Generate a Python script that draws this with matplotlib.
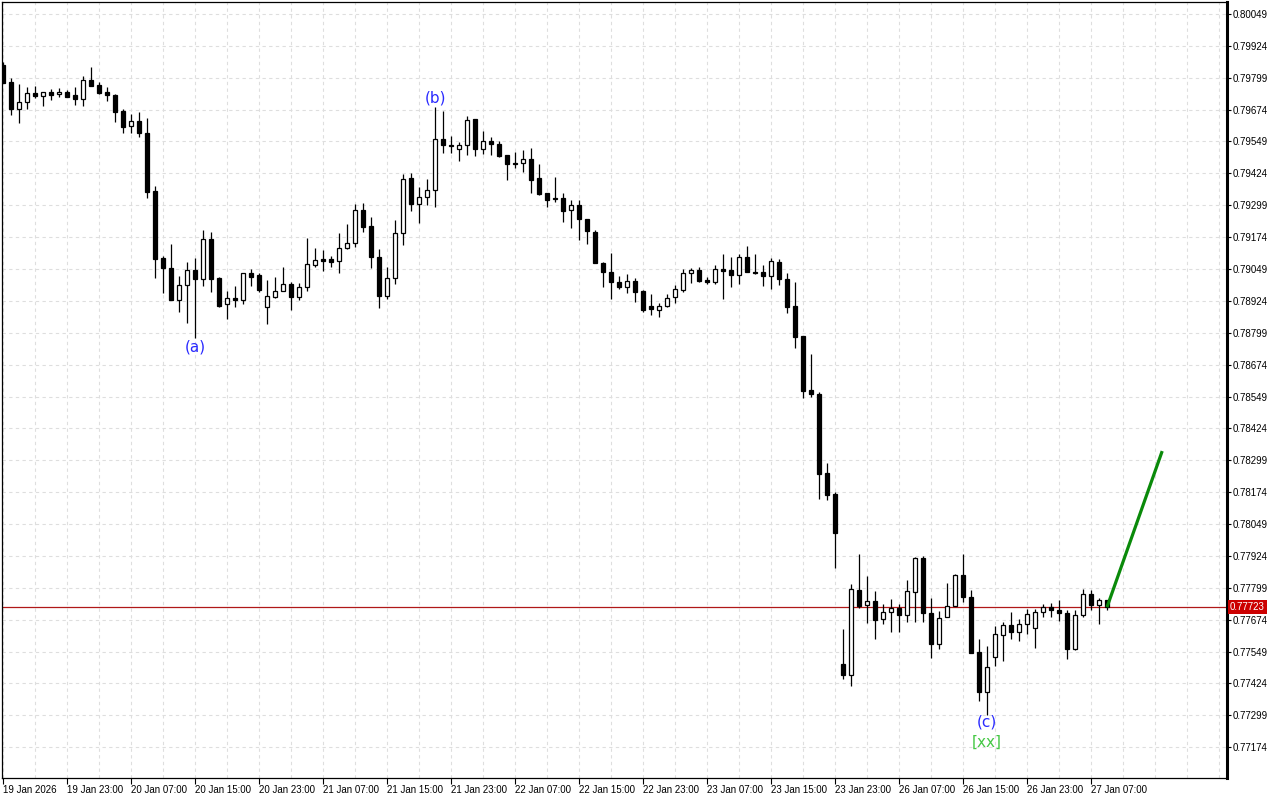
import matplotlib
matplotlib.use("Agg")
import matplotlib.pyplot as plt
import matplotlib.transforms as mtransforms
import numpy as np

# hourly bars, 19 Jan 15:00 -> 27 Jan 09:00 (weekend skipped)
opens = [
    0.79849, 0.79782, 0.79677, 0.79704, 0.79739, 0.79728, 0.79743, 0.79735, 0.79743, 0.79731,
    0.79716, 0.79790, 0.79771, 0.79743, 0.79731, 0.79669, 0.79610, 0.79630, 0.79583, 0.79355,
    0.79093, 0.79053, 0.78927, 0.78987, 0.79045, 0.79010, 0.79167, 0.79014, 0.78911, 0.78935,
    0.78927, 0.79034, 0.79026, 0.78900, 0.78939, 0.78963, 0.78990, 0.78939, 0.78979, 0.79065,
    0.79089, 0.79089, 0.79081, 0.79132, 0.79151, 0.79281, 0.79218, 0.79096, 0.78943, 0.79014,
    0.79191, 0.79406, 0.79304, 0.79332, 0.79359, 0.79559, 0.79536, 0.79520, 0.79536, 0.79638,
    0.79520, 0.79551, 0.79539, 0.79496, 0.79465, 0.79465, 0.79481, 0.79406, 0.79347, 0.79328,
    0.79328, 0.79281, 0.79300, 0.79245, 0.79195, 0.79073, 0.79038, 0.78998, 0.78979, 0.79002,
    0.78963, 0.78904, 0.78888, 0.78904, 0.78939, 0.78967, 0.79034, 0.79045, 0.79006, 0.78998,
    0.79049, 0.79045, 0.79026, 0.79096, 0.79038, 0.79038, 0.79022, 0.79077, 0.79010, 0.78904,
    0.78786, 0.78574, 0.78559, 0.78249, 0.78167, 0.77500, 0.77457, 0.77790, 0.77731, 0.77747,
    0.77676, 0.77704, 0.77720, 0.77692, 0.77782, 0.77916, 0.77700, 0.77578, 0.77684, 0.77727,
    0.77849, 0.77763, 0.77547, 0.77390, 0.77528, 0.77614, 0.77653, 0.77626, 0.77657, 0.77641,
    0.77704, 0.77723, 0.77712, 0.77700, 0.77559, 0.77692, 0.77774, 0.77731, 0.77751]
highs = [
    0.79860, 0.79798, 0.79775, 0.79763, 0.79767, 0.79743, 0.79755, 0.79759, 0.79751, 0.79763,
    0.79806, 0.79841, 0.79782, 0.79763, 0.79735, 0.79677, 0.79657, 0.79665, 0.79641, 0.79375,
    0.79100, 0.79147, 0.79022, 0.79077, 0.79093, 0.79202, 0.79195, 0.79018, 0.78963, 0.78983,
    0.79034, 0.79049, 0.79034, 0.79006, 0.79018, 0.79057, 0.78998, 0.78994, 0.79171, 0.79132,
    0.79124, 0.79100, 0.79191, 0.79226, 0.79304, 0.79308, 0.79253, 0.79128, 0.79057, 0.79242,
    0.79422, 0.79426, 0.79371, 0.79402, 0.79685, 0.79669, 0.79571, 0.79547, 0.79649, 0.79638,
    0.79590, 0.79567, 0.79551, 0.79496, 0.79508, 0.79516, 0.79524, 0.79461, 0.79347, 0.79410,
    0.79347, 0.79320, 0.79320, 0.79245, 0.79202, 0.79077, 0.79112, 0.79022, 0.79030, 0.79014,
    0.78967, 0.78951, 0.78915, 0.78951, 0.78987, 0.79049, 0.79053, 0.79057, 0.79018, 0.79065,
    0.79108, 0.79096, 0.79108, 0.79140, 0.79108, 0.79065, 0.79093, 0.79089, 0.79034, 0.78998,
    0.78786, 0.78715, 0.78567, 0.78288, 0.78174, 0.77637, 0.77814, 0.77931, 0.77845, 0.77786,
    0.77735, 0.77755, 0.77735, 0.77829, 0.77920, 0.77924, 0.77759, 0.77708, 0.77818, 0.77853,
    0.77931, 0.77790, 0.77598, 0.77571, 0.77649, 0.77665, 0.77704, 0.77676, 0.77716, 0.77716,
    0.77735, 0.77739, 0.77751, 0.77712, 0.77712, 0.77794, 0.77790, 0.77759, 0.77751]
lows = [
    0.79778, 0.79653, 0.79622, 0.79677, 0.79720, 0.79689, 0.79712, 0.79724, 0.79724, 0.79692,
    0.79689, 0.79767, 0.79735, 0.79708, 0.79626, 0.79583, 0.79583, 0.79567, 0.79328, 0.79014,
    0.78955, 0.78927, 0.78880, 0.78837, 0.78778, 0.78983, 0.78959, 0.78900, 0.78852, 0.78900,
    0.78911, 0.78983, 0.78959, 0.78833, 0.78935, 0.78963, 0.78888, 0.78927, 0.78963, 0.79057,
    0.79042, 0.79057, 0.79034, 0.79128, 0.79136, 0.79195, 0.79053, 0.78896, 0.78931, 0.78990,
    0.79144, 0.79277, 0.79230, 0.79300, 0.79293, 0.79504, 0.79504, 0.79473, 0.79496, 0.79492,
    0.79500, 0.79496, 0.79488, 0.79398, 0.79445, 0.79429, 0.79347, 0.79339, 0.79293, 0.79312,
    0.79234, 0.79210, 0.79163, 0.79147, 0.79073, 0.78979, 0.78931, 0.78971, 0.78955, 0.78920,
    0.78880, 0.78868, 0.78860, 0.78900, 0.78915, 0.78959, 0.78994, 0.78998, 0.78990, 0.78990,
    0.78931, 0.78979, 0.78990, 0.79038, 0.79030, 0.78983, 0.78971, 0.78987, 0.78876, 0.78739,
    0.78543, 0.78547, 0.78147, 0.78143, 0.77876, 0.77441, 0.77414, 0.77720, 0.77661, 0.77598,
    0.77657, 0.77626, 0.77626, 0.77665, 0.77665, 0.77665, 0.77524, 0.77559, 0.77684, 0.77727,
    0.77743, 0.77543, 0.77355, 0.77300, 0.77492, 0.77512, 0.77598, 0.77590, 0.77618, 0.77563,
    0.77684, 0.77684, 0.77669, 0.77520, 0.77555, 0.77684, 0.77712, 0.77657, 0.77712]
closes = [
    0.79778, 0.79677, 0.79704, 0.79739, 0.79728, 0.79743, 0.79731, 0.79743, 0.79724, 0.79716,
    0.79790, 0.79767, 0.79739, 0.79731, 0.79665, 0.79606, 0.79630, 0.79583, 0.79351, 0.79089,
    0.79053, 0.78927, 0.78987, 0.79045, 0.79010, 0.79167, 0.79010, 0.78904, 0.78935, 0.78927,
    0.79034, 0.79018, 0.78967, 0.78943, 0.78963, 0.78990, 0.78939, 0.78979, 0.79069, 0.79085,
    0.79081, 0.79077, 0.79132, 0.79151, 0.79281, 0.79214, 0.79096, 0.78943, 0.79014, 0.79191,
    0.79402, 0.79304, 0.79332, 0.79359, 0.79559, 0.79536, 0.79532, 0.79536, 0.79634, 0.79520,
    0.79551, 0.79539, 0.79492, 0.79461, 0.79461, 0.79481, 0.79398, 0.79343, 0.79320, 0.79324,
    0.79277, 0.79300, 0.79245, 0.79198, 0.79073, 0.79038, 0.78998, 0.78979, 0.79002, 0.78959,
    0.78888, 0.78892, 0.78904, 0.78935, 0.78971, 0.79034, 0.79045, 0.79002, 0.78998, 0.79049,
    0.79042, 0.79026, 0.79096, 0.79038, 0.79034, 0.79022, 0.79081, 0.79010, 0.78900, 0.78782,
    0.78570, 0.78559, 0.78245, 0.78163, 0.78014, 0.77457, 0.77794, 0.77727, 0.77747, 0.77673,
    0.77704, 0.77720, 0.77692, 0.77786, 0.77916, 0.77700, 0.77578, 0.77680, 0.77727, 0.77849,
    0.77763, 0.77543, 0.77390, 0.77488, 0.77618, 0.77653, 0.77626, 0.77657, 0.77696, 0.77704,
    0.77723, 0.77712, 0.77700, 0.77559, 0.77692, 0.77774, 0.77731, 0.77751, 0.77723]

time_labels = ["19 Jan 2026", "19 Jan 23:00", "20 Jan 07:00", "20 Jan 15:00", "20 Jan 23:00",
               "21 Jan 07:00", "21 Jan 15:00", "21 Jan 23:00", "22 Jan 07:00", "22 Jan 15:00",
               "22 Jan 23:00", "23 Jan 07:00", "23 Jan 15:00", "23 Jan 23:00", "26 Jan 07:00",
               "26 Jan 15:00", "26 Jan 23:00", "27 Jan 07:00"]
price_ticks = [0.77174 + 0.00125 * i for i in range(24)]
last_price = 0.77723

# wave labels: (bar, price, text, colour)
waves = [(24, 0.78743, "(a)", "#2a2aff"),
         (54, 0.79720, "(b)", "#2a2aff"),
         (123, 0.77272, "(c)", "#2a2aff"),
         (123, 0.77194, "[xx]", "#45c845")]
# projection arrow line
proj_x = [138, 144.9]
proj_y = [0.77723, 0.78335]

o = np.array(opens); h = np.array(highs); l = np.array(lows); c = np.array(closes)
x = np.arange(len(o))

fig = plt.figure(figsize=(12.8, 8), dpi=100)
ax = fig.add_axes([2 / 1280, 22 / 800, 1225 / 1280, 776 / 800])
ax.set_xlim(-0.125, 153)
ax.set_ylim(0.77053, 0.80096)

# grid
grid_kw = dict(color="#dedede", lw=0.8, linestyle=(0, (3, 3)), zorder=0)
for gx in range(0, 153, 4):
    ax.axvline(gx, **grid_kw)
for py in price_ticks:
    ax.axhline(py, **grid_kw)

# candles
ax.vlines(x, l, h, color="black", lw=0.9, zorder=2)
up = c > o
body_lo = np.minimum(o, c)
body_h = np.abs(c - o)
ax.bar(x[up], body_h[up], bottom=body_lo[up], width=0.52, color="white",
       edgecolor="black", lw=0.9, zorder=3)
ax.bar(x[~up], body_h[~up], bottom=body_lo[~up], width=0.52, color="black",
       edgecolor="black", lw=0.9, zorder=3)

# current price line
ax.axhline(last_price, color="#b01818", lw=0.9, zorder=1)

# projection
ax.plot(proj_x, proj_y, color="#0a8a0a", lw=2.3, zorder=4, solid_capstyle="butt")

for bx, py, txt, col in waves:
    ax.text(bx, py, txt, color=col, fontsize=11, ha="center", va="center", zorder=5)

# axes styling
for s in ["left", "top", "bottom"]:
    ax.spines[s].set_linewidth(0.9)
ax.spines["right"].set_linewidth(2.2)

ax.yaxis.tick_right()
ax.set_yticks(price_ticks)
ax.set_yticklabels(["%.5f" % v for v in price_ticks])
ax.tick_params(axis="y", direction="out", length=3, width=0.8, pad=1, labelsize=7,
               labelfontfamily="Liberation Sans")
ax.set_xticks(range(0, 8 * len(time_labels), 8))
ax.set_xticklabels(time_labels)
ax.tick_params(axis="x", direction="out", length=4, width=0.8, pad=1, labelsize=7,
               labelfontfamily="Liberation Sans")
for lbl in ax.get_xticklabels():
    lbl.set_ha("left")

# price tag on axis
trans = mtransforms.blended_transform_factory(ax.transAxes, ax.transData)
ax.text(1.0025, last_price, "%.5f" % last_price, transform=trans, color="white", fontsize=7,
        family="Liberation Sans", ha="left", va="center", zorder=6, clip_on=False,
        bbox=dict(boxstyle="square,pad=0.2", fc="#cc0000", ec="none"))

fig.savefig("out.png", dpi=100)
